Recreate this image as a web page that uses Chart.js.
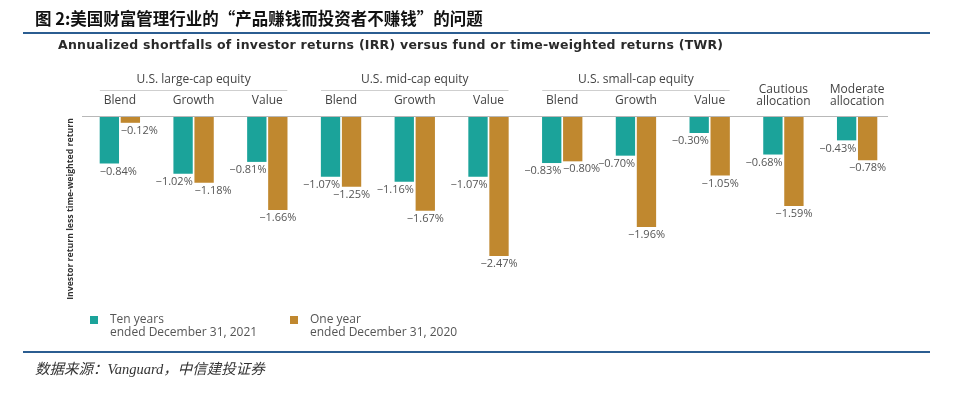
<!DOCTYPE html>
<html>
<head>
<meta charset="utf-8">
<script src="https://cdn.jsdelivr.net/npm/chart.js@4.4.1/dist/chart.umd.min.js"></script>
<style>
    body { margin: 0; background: #fff; }
    #wrap { position: relative; width: 960px; height: 395px; overflow: hidden; }
    #title { position: absolute; left: 35px; top: 6px; line-height: 24px; font: bold 16.5px "Noto Sans CJK SC"; color: #111; white-space: nowrap; }
    .rule { position: absolute; left: 23px; width: 907px; height: 2px; background: #2b5d91; }
    #source { position: absolute; left: 35px; top: 357px; line-height: 20px; font: italic 14.5px "Liberation Serif", "Noto Sans CJK SC"; color: #333; white-space: nowrap; }
    canvas { position: absolute; left: 0; top: 0; }
</style>
</head>
<body>
<div id="wrap">
    <canvas id="shortfall_chart" width="960" height="395"></canvas>
    <div id="title">图 2:美国财富管理行业的“产品赚钱而投资者不赚钱”的问题</div>
    <div class="rule" style="top:32px"></div>
    <div class="rule" style="top:351px"></div>
    <div id="source">数据来源：Vanguard，中信建投证券</div>
</div>
<script>
// categories (sub-labels above the bars)
var categories = ['Blend', 'Growth', 'Value', 'Blend', 'Growth', 'Value', 'Blend', 'Growth', 'Value',
    ['Cautious', 'allocation'], ['Moderate', 'allocation']];
// group headers, each spanning three categories
var groupNames = ['U.S. large-cap equity', 'U.S. mid-cap equity', 'U.S. small-cap equity'];
var groupSize = 3;
// series
var tenYears = [-0.84, -1.02, -0.81, -1.07, -1.16, -1.07, -0.83, -0.70, -0.30, -0.68, -0.43];
var oneYear = [-0.12, -1.18, -1.66, -1.25, -1.67, -2.47, -0.80, -1.96, -1.05, -1.59, -0.78];
var seriesNames = [['Ten years', 'ended December 31, 2021'], ['One year', 'ended December 31, 2020']];
var subtitle = 'Annualized shortfalls of investor returns (IRR) versus fund or time-weighted returns (TWR)';
var yTitle = 'Investor return less time-weighted return';

var TEAL = '#1ba39a';
var GOLD = '#c0882f';
var FONT = '"Open Sans"';

function fmt(v) {
    return '\u2212' + Math.abs(v).toFixed(2) + '%';
}

// draws everything around the bars: headings, zero line, value labels, legend
var decor = {
    id: 'decor',
    afterDraw: function (chart) {
        var ctx = chart.ctx;
        var xs = chart.scales.x, ys = chart.scales.y, area = chart.chartArea;
        ctx.save();

        // subtitle
        ctx.font = 'bold 12.5px "DejaVu Sans"';
        ctx.fillStyle = '#2a2a2a';
        ctx.textBaseline = 'middle';
        ctx.textAlign = 'left';
        var w0 = ctx.measureText(subtitle).width;
        ctx.letterSpacing = ((665 - w0) / (subtitle.length - 1)).toFixed(2) + 'px';
        ctx.fillText(subtitle, 58, 46);
        ctx.letterSpacing = '0px';

        // zero line
        var y0 = Math.round(ys.getPixelForValue(0)) + 0.5;
        ctx.strokeStyle = '#b8b8b8';
        ctx.lineWidth = 1;
        ctx.beginPath();
        ctx.moveTo(area.left - 1, y0);
        ctx.lineTo(area.right - 6, y0);
        ctx.stroke();

        // group headers
        ctx.font = '12px ' + FONT;
        ctx.fillStyle = '#444';
        ctx.textAlign = 'center';
        groupNames.forEach(function (name, g) {
            var s = g * groupSize;
            var x0 = xs.getPixelForValue(s) - 20;
            var x1 = xs.getPixelForValue(s + groupSize - 1) + 20;
            ctx.fillText(name, (x0 + x1) / 2, 80);
            ctx.strokeStyle = '#cfcfcf';
            ctx.beginPath();
            ctx.moveTo(x0, 90.5);
            ctx.lineTo(x1, 90.5);
            ctx.stroke();
        });

        // category labels
        categories.forEach(function (c, i) {
            var cx = xs.getPixelForValue(i);
            if (Array.isArray(c)) {
                ctx.fillText(c[0], cx, 90);
                ctx.fillText(c[1], cx, 102);
            } else {
                ctx.fillText(c, cx, 101);
            }
        });

        // value labels under the bars
        var teal = chart.getDatasetMeta(0).data, gold = chart.getDatasetMeta(1).data;
        ctx.font = '11px ' + FONT;
        ctx.fillStyle = '#555';
        for (var i = 0; i < categories.length; i++) {
            var a = teal[i], b = gold[i];
            var diff = tenYears[i] - oneYear[i];
            // ten-year label
            if (diff < -0.3) {
                ctx.textAlign = 'left';
                ctx.fillText(fmt(tenYears[i]), a.x - a.width / 2, a.y + 8);
            } else {
                ctx.textAlign = 'right';
                ctx.fillText(fmt(tenYears[i]), a.x + a.width / 2, a.y + 8);
            }
            // one-year label
            if (diff < 0 || Math.abs(diff) < 0.17) {
                ctx.textAlign = 'left';
                ctx.fillText(fmt(oneYear[i]), b.x - b.width / 2, b.y + 8);
            } else {
                ctx.textAlign = 'center';
                ctx.fillText(fmt(oneYear[i]), b.x, b.y + 8);
            }
        }

        // y axis title
        ctx.save();
        ctx.translate(71, 209);
        ctx.rotate(-Math.PI / 2);
        ctx.font = 'bold 10px ' + FONT;
        var wy = ctx.measureText(yTitle).width;
        ctx.font = 'bold ' + (10 * 182 / wy).toFixed(2) + 'px ' + FONT;
        ctx.fillStyle = '#333';
        ctx.textAlign = 'center';
        ctx.fillText(yTitle, 0, 0);
        ctx.restore();

        // legend
        var colors = [TEAL, GOLD];
        var lx = [90, 290];
        ctx.font = '12px ' + FONT;
        ctx.textAlign = 'left';
        seriesNames.forEach(function (lines, k) {
            ctx.fillStyle = colors[k];
            ctx.fillRect(lx[k], 316, 8, 8);
            ctx.fillStyle = '#555';
            ctx.fillText(lines[0], lx[k] + 20, 320);
            ctx.fillText(lines[1], lx[k] + 20, 333);
        });

        ctx.restore();
    }
};

var ctxChart = document.getElementById('shortfall_chart').getContext('2d');
var shortfallChart = new Chart(ctxChart, {
    type: 'bar',
    data: {
        labels: categories,
        datasets: [{
            label: seriesNames[0].join(' '),
            data: tenYears,
            backgroundColor: TEAL,
            categoryPercentage: 0.57,
            barPercentage: 0.92
        }, {
            label: seriesNames[1].join(' '),
            data: oneYear,
            backgroundColor: GOLD,
            categoryPercentage: 0.57,
            barPercentage: 0.92
        }]
    },
    options: {
        responsive: false,
        animation: false,
        layout: {
            padding: { left: 83, right: 66, top: 116, bottom: 109 }
        },
        scales: {
            x: { display: false },
            y: { display: false, min: -3, max: 0 }
        },
        plugins: {
            legend: { display: false },
            tooltip: { enabled: false }
        }
    },
    plugins: [decor]
});
</script>
</body>
</html>
